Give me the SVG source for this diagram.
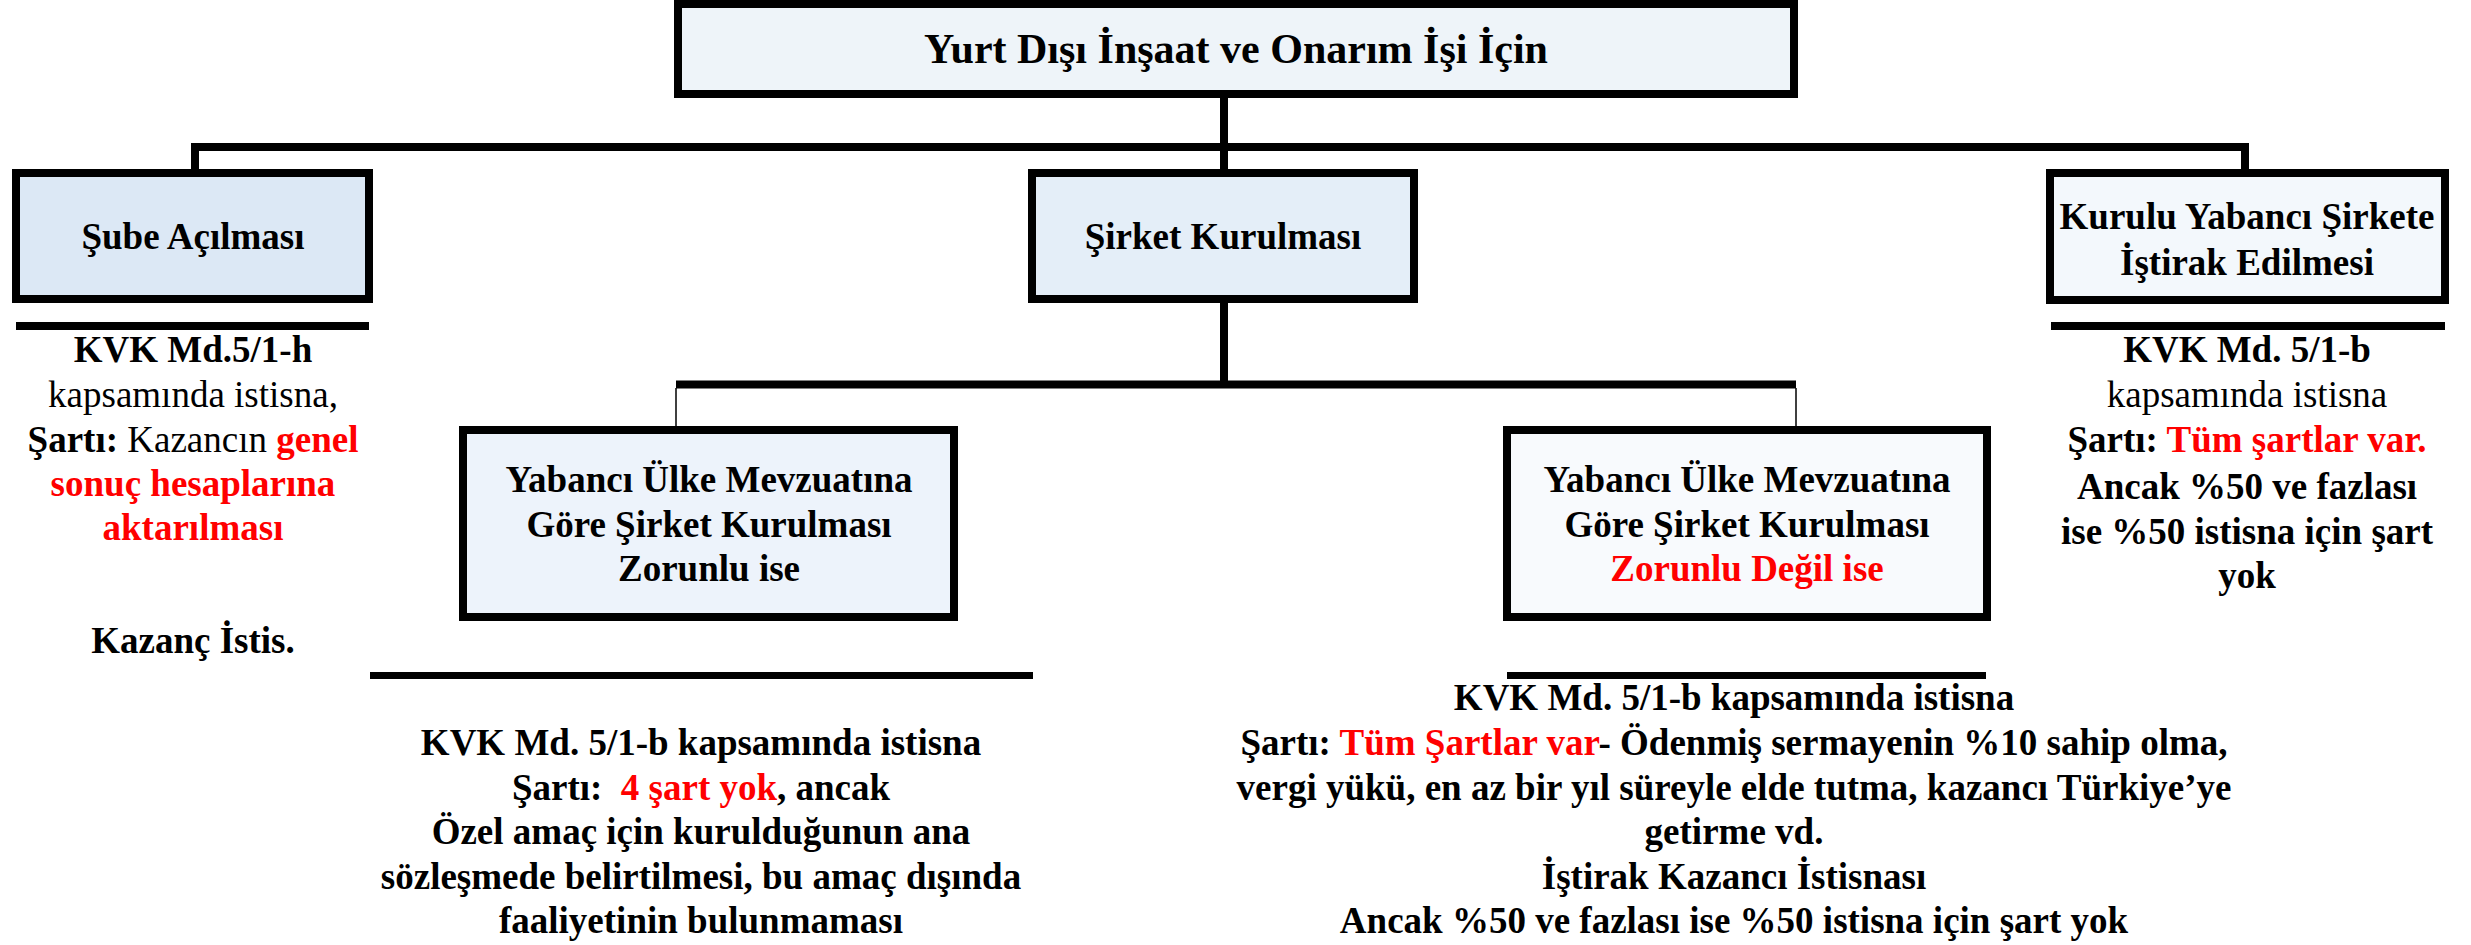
<svg xmlns="http://www.w3.org/2000/svg" width="2471" height="945" viewBox="0 0 2471 945">
<style>
text{font-family:"Liberation Serif","Times New Roman",serif;font-size:37px;font-weight:bold;fill:#000;text-anchor:middle}
.t{font-size:42px}
.r{fill:#FF0000}
.n{font-weight:normal}
.box{stroke:#000;stroke-width:8}
.bar{fill:#000}
.c{fill:none;stroke:#000;stroke-width:8;stroke-linejoin:miter}
.thin{fill:none;stroke:#000;stroke-width:1.5}
</style>
<rect width="2471" height="945" fill="#fff"/>
<g id="connectors">
<path class="c" d="M1224 98 V173"/>
<path class="c" d="M195 173 V147 H2245 V173"/>
<path class="c" d="M1224 303 V384.5"/>
<path class="c" d="M676 384.5 H1796"/>
<path class="thin" d="M676 388 V426"/>
<path class="thin" d="M1796 388 V426"/>
</g>
<g id="root">
<rect class="box" x="678" y="4" width="1116" height="90" fill="#EEF4F9"/>
<text class="t" x="1236" y="63">Yurt Dışı İnşaat ve Onarım İşi İçin</text>
</g>
<g id="sube">
<rect class="box" x="16" y="173" width="353" height="126" fill="#DCE8F5"/>
<text x="193" y="249">Şube Açılması</text>
</g>
<g id="sirket">
<rect class="box" x="1032" y="173" width="382" height="126" fill="#E4EEF8"/>
<text x="1223" y="249">Şirket Kurulması</text>
</g>
<g id="istirak">
<rect class="box" x="2050" y="173" width="395" height="127" fill="#F3F8FC"/>
<text x="2247" y="229">Kurulu Yabancı Şirkete</text>
<text x="2247" y="275">İştirak Edilmesi</text>
</g>
<g id="zorunlu">
<rect class="box" x="463" y="430" width="491" height="187" fill="#EDF3FB"/>
<text x="709" y="492">Yabancı Ülke Mevzuatına</text>
<text x="709" y="537">Göre Şirket Kurulması</text>
<text x="709" y="581">Zorunlu ise</text>
</g>
<g id="zorunlu-degil">
<rect class="box" x="1507" y="430" width="480" height="187" fill="#F8FAFD"/>
<text x="1747" y="492">Yabancı Ülke Mevzuatına</text>
<text x="1747" y="537">Göre Şirket Kurulması</text>
<text x="1747" y="581" class="r">Zorunlu Değil ise</text>
</g>
<g id="sube-note">
<rect class="bar" x="16" y="322" width="353" height="8"/>
<text x="193" y="362">KVK Md.5/1-h</text>
<text x="193" y="407" class="n">kapsamında istisna,</text>
<text x="193" y="452">Şartı: <tspan class="n">Kazancın </tspan><tspan class="r">genel</tspan></text>
<text x="193" y="496" class="r">sonuç hesaplarına</text>
<text x="193" y="540" class="r">aktarılması</text>
<text x="193" y="653">Kazanç İstis.</text>
</g>
<g id="istirak-note">
<rect class="bar" x="2051" y="322" width="394" height="8"/>
<text x="2247" y="362">KVK Md. 5/1-b</text>
<text x="2247" y="407" class="n">kapsamında istisna</text>
<text x="2247" y="452">Şartı: <tspan class="r">Tüm şartlar var.</tspan></text>
<text x="2247" y="499">Ancak %50 ve fazlası</text>
<text x="2247" y="544">ise %50 istisna için şart</text>
<text x="2247" y="588">yok</text>
</g>
<g id="zorunlu-note">
<rect class="bar" x="370" y="672" width="663" height="7"/>
<text x="701" y="755">KVK Md. 5/1-b kapsamında istisna</text>
<text x="701" y="800" xml:space="preserve">Şartı:  <tspan class="r">4 şart yok</tspan>, ancak</text>
<text x="701" y="844">Özel amaç için kurulduğunun ana</text>
<text x="701" y="889">sözleşmede belirtilmesi, bu amaç dışında</text>
<text x="701" y="933">faaliyetinin bulunmaması</text>
</g>
<g id="zorunlu-degil-note">
<rect class="bar" x="1507" y="672" width="479" height="7"/>
<text x="1734" y="710">KVK Md. 5/1-b kapsamında istisna</text>
<text x="1734" y="755">Şartı: <tspan class="r">Tüm Şartlar var</tspan>- Ödenmiş sermayenin %10 sahip olma,</text>
<text x="1734" y="800">vergi yükü, en az bir yıl süreyle elde tutma, kazancı Türkiye’ye</text>
<text x="1734" y="844">getirme vd.</text>
<text x="1734" y="889">İştirak Kazancı İstisnası</text>
<text x="1734" y="933">Ancak %50 ve fazlası ise %50 istisna için şart yok</text>
</g>
</svg>
